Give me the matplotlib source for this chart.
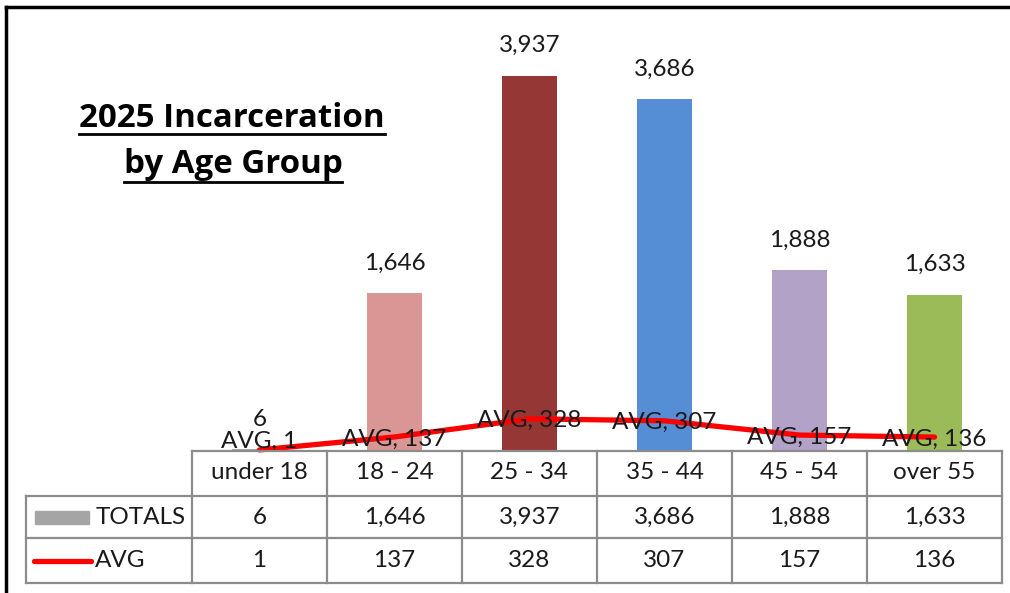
import matplotlib
matplotlib.use("Agg")
import matplotlib.pyplot as plt
from matplotlib.lines import Line2D
from matplotlib.patches import Rectangle
from matplotlib.transforms import blended_transform_factory

plt.rcParams['font.family'] = ['Lato', 'DejaVu Sans']

# ---- data ----
categories = ["under 18", "18 - 24", "25 - 34", "35 - 44", "45 - 54", "over 55"]
totals = [6, 1646, 3937, 3686, 1888, 1633]
avg = [1, 137, 328, 307, 157, 136]
bar_colors = ["#A5A5A5", "#D99694", "#953735", "#558ED5", "#B3A2C7", "#9BBB59"]
series_names = ["TOTALS", "AVG"]
title_lines = ["2025 Incarceration", "by Age Group"]

W, H = 1010, 593
fig = plt.figure(figsize=(W / 100, H / 100), dpi=100)
fig.patch.set_facecolor("white")

def fx(px):
    return px / W

def fy(py):
    return 1 - py / H

# plot area
left_px, right_px, base_px, top_px = 192, 1002, 450, 22
ax = fig.add_axes([fx(left_px), fy(base_px), fx(right_px) - fx(left_px), fy(top_px) - fy(base_px)])
ax.set_xlim(-0.5, len(categories) - 0.5)
ax.set_ylim(0, 4500)
ax.axis("off")

FS = 17.5
TXT = "#1a1a1a"

x = list(range(len(categories)))
ax.bar(x, totals, width=0.41, color=bar_colors, zorder=2)
for i, v in enumerate(totals):
    ax.annotate(f"{v:,}", (i, v), xytext=(0, 30), textcoords="offset pixels",
                ha="center", va="center", fontsize=FS, color=TXT, zorder=5)

ax.plot(x, avg, color="#FF0000", lw=3.8, solid_capstyle="round", zorder=3, clip_on=False)
px_per_unit = (base_px - top_px) / 4500
for i, v in enumerate(avg):
    dy = max(-2.0, 9 - v * px_per_unit)
    ax.annotate(f"AVG, {v}", (i, v), xytext=(0, dy), textcoords="offset pixels",
                ha="center", va="center", fontsize=FS, color=TXT, zorder=6,
                annotation_clip=False)

# ---- data table ----
bt = blended_transform_factory(ax.transData, fig.transFigure)
grid_c = "#8c8c8c"
glw = 1.6
row_y = [451, 496, 538, 583]
leg_left = 26

def hline(x0px, x1px, ypx):
    fig.add_artist(Line2D([fx(x0px), fx(x1px)], [fy(ypx), fy(ypx)], color=grid_c, lw=glw,
                          transform=fig.transFigure))

def vline(xpx, y0px, y1px):
    fig.add_artist(Line2D([fx(xpx), fx(xpx)], [fy(y0px), fy(y1px)], color=grid_c, lw=glw,
                          transform=fig.transFigure))

hline(left_px, right_px, row_y[0])
for yy in row_y[1:]:
    hline(leg_left, right_px, yy)
vline(leg_left, row_y[1], row_y[3])
n = len(categories)
for k in range(n + 1):
    xp = left_px + (right_px - left_px) * k / n
    vline(xp, row_y[0], row_y[3])

centers_y = [(row_y[0] + row_y[1]) / 2 - 1, (row_y[1] + row_y[2]) / 2, (row_y[2] + row_y[3]) / 2]
for i, c in enumerate(categories):
    fig.text(i, fy(centers_y[0]), c, transform=bt, fontsize=FS, ha="center", va="center", color=TXT)
    fig.text(i, fy(centers_y[1]), f"{totals[i]:,}", transform=bt, fontsize=FS, ha="center",
             va="center", color=TXT)
    fig.text(i, fy(centers_y[2]), f"{avg[i]:,}", transform=bt, fontsize=FS, ha="center",
             va="center", color=TXT)

# legend keys in table
fig.add_artist(Rectangle((fx(35), fy(524)), fx(89) - fx(35), fy(511) - fy(524),
                         transform=fig.transFigure, color="#A5A5A5"))
fig.text(fx(96), fy(centers_y[1]), series_names[0], fontsize=FS, ha="left", va="center", color=TXT)
fig.add_artist(Line2D([fx(34), fx(91)], [fy(centers_y[2]), fy(centers_y[2])], color="#FF0000", lw=3.8,
                      solid_capstyle="round", transform=fig.transFigure))
fig.text(fx(95), fy(centers_y[2]), series_names[1], fontsize=FS, ha="left", va="center", color=TXT)

# ---- title with underline ----
t1 = fig.text(fx(232), fy(127), title_lines[0], fontsize=23.8, fontweight="bold", ha="center",
              va="baseline", color="black", family=["Open Sans", "DejaVu Sans"])
t2 = fig.text(fx(233), fy(173), title_lines[1], fontsize=23.8, fontweight="bold", ha="center",
              va="baseline", color="black", family=["Open Sans", "DejaVu Sans"])
fig.canvas.draw()
r = fig.canvas.get_renderer()
for t, uy in ((t1, 134), (t2, 182)):
    bb = t.get_window_extent(r)
    fig.add_artist(Line2D([bb.x0 / W, bb.x1 / W], [fy(uy), fy(uy)], color="black", lw=2.0,
                          transform=fig.transFigure))

# outer frame (left and top edges)
fig.add_artist(Line2D([fx(6), fx(6)], [fy(7), 0], color="black", lw=2.5, transform=fig.transFigure))
fig.add_artist(Line2D([fx(6), 1], [fy(7), fy(7)], color="black", lw=2.5, transform=fig.transFigure))

fig.savefig("out.png", dpi=100, facecolor="white")
